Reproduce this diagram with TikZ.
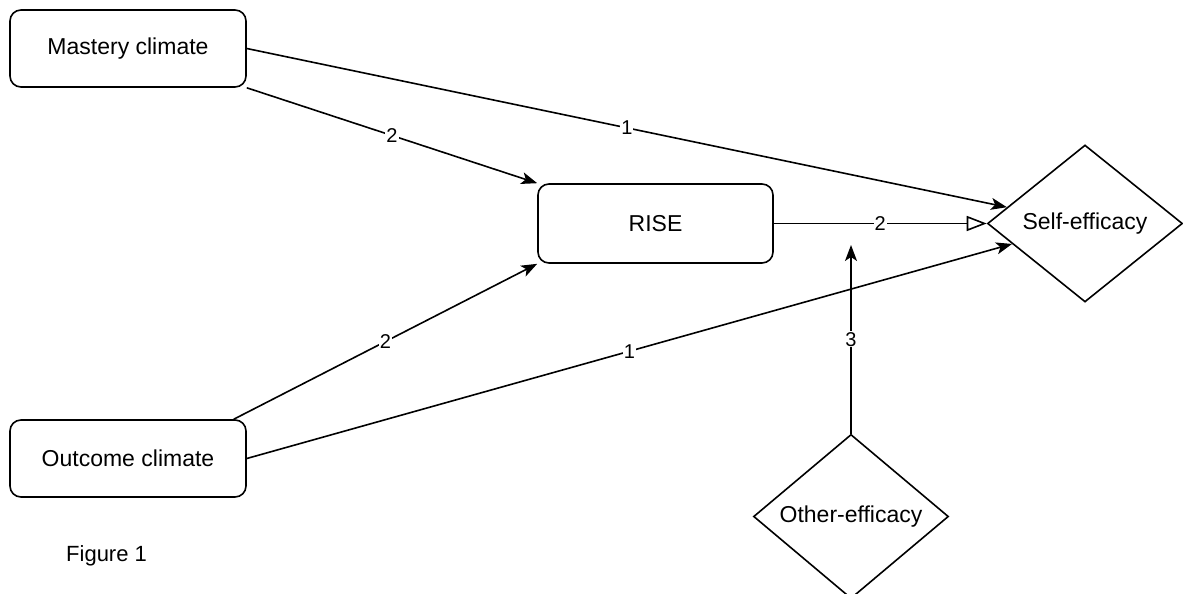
\documentclass[tikz,border=0pt]{standalone}
\usepackage{fontspec}
\setmainfont{Liberation Sans}
\usetikzlibrary{shapes.geometric,arrows.meta}
\begin{document}
\begin{tikzpicture}[x=1pt,y=-1pt,
  box/.style={draw, line width=1.6pt, rounded corners=11pt, minimum width=236pt, minimum height=77pt, inner sep=0pt, font=\fontsize{23}{27}\selectfont},
  dia/.style={draw, diamond, line width=1.6pt, inner sep=0pt, minimum width=195pt, minimum height=157pt, font=\fontsize{23}{27}\selectfont},
  conn/.style={line width=1.6pt, -{Stealth[length=16pt,width=12pt,inset=4pt]}},
  openconn/.style={line width=1.6pt, -{Triangle[open,length=20pt,width=15pt,line width=1.6pt]}},
  lbl/.style={fill=white, inner sep=1pt, font=\fontsize{20}{24}\selectfont}
]
\useasboundingbox (0,0) rectangle (1183,594);
\node[box] (mastery) at (128,48.5) {Mastery climate};
\node[box] (outcome) at (128,458.5) {Outcome climate};
\node[box, minimum width=235pt, minimum height=79pt] (rise) at (655.5,223.5) {RISE};
\node[dia] (self) at (1085,223.5) {Self-efficacy};
\node[dia, minimum height=155pt] (other) at (851,516.5) {Other-efficacy};
\node[font=\fontsize{22}{26}\selectfont, anchor=west, inner sep=0pt] (fig) at (66,556) {Figure 1};
\coordinate (tipc) at (851,245);

\draw[conn] (mastery.east) -- node[lbl] {1} (self);
\draw[conn] (mastery.south east) -- node[lbl] {2} (rise.north west);
\draw[conn] ([xshift=-13pt]outcome.north east) -- node[lbl] {2} (rise.south west);
\draw[conn] (outcome.east) -- node[lbl] {1} (self);
\draw[openconn] (rise.east) -- node[lbl] {2} (self.west);
\draw[conn] (other.north) -- node[lbl] {3} (tipc);
\end{tikzpicture}
\end{document}
